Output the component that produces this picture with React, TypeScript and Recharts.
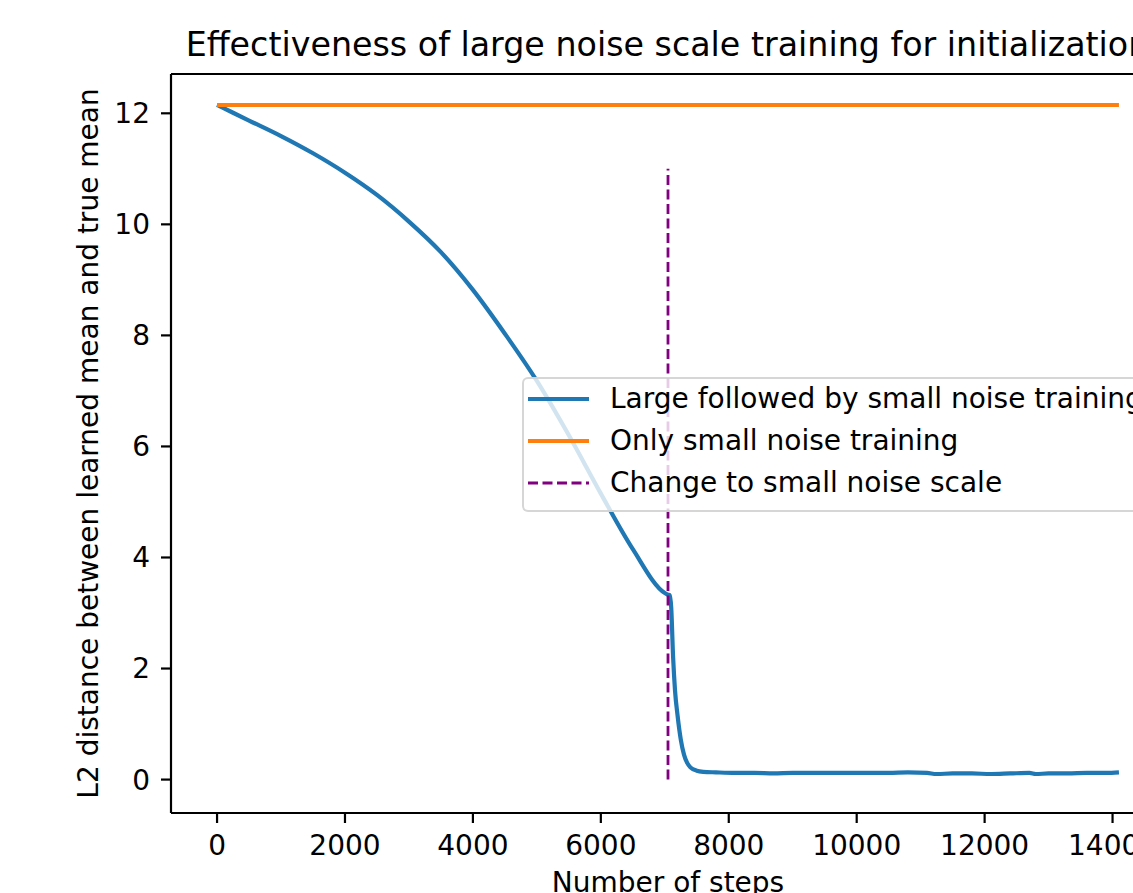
import React from 'react'
import {
  LineChart,
  Line,
  XAxis,
  YAxis,
  ReferenceLine,
  Legend,
} from 'recharts'

// blue: large noise first, then small noise after the switch
const largeSteps = [
  0, 500, 1000, 1500, 2000, 2500, 3000, 3500, 4000, 4500, 5000, 5500, 6000, 6500, 7000,
  7050, 7080, 7100, 7130, 7160, 7200, 7250, 7300, 7350, 7400, 7500, 7600, 7800,
  8100, 8400, 8700, 9000, 9300, 9600, 9900, 10200, 10500, 10800, 11100, 11250, 11500,
  11800, 12100, 12400, 12700, 12800, 13000, 13300, 13600, 13900, 14100,
]
const largeValues = [
  12.15, 11.87, 11.59, 11.28, 10.93, 10.53, 10.05, 9.5, 8.82, 8.03, 7.18, 6.2, 5.15, 4.15, 3.36,
  3.33, 3.32, 3.1, 2.2, 1.6, 1.15, 0.72, 0.45, 0.3, 0.22, 0.16, 0.14, 0.13,
  0.12, 0.12, 0.11, 0.12, 0.12, 0.12, 0.12, 0.12, 0.12, 0.13, 0.12, 0.1, 0.11,
  0.11, 0.1, 0.11, 0.12, 0.1, 0.11, 0.11, 0.12, 0.12, 0.13,
]

// orange: small noise only, stays flat
const smallSteps = [0, 3500, 7050, 10500, 14100]
const smallValues = [12.15, 12.15, 12.15, 12.15, 12.15]

const switchStep = 7050
const switchTop = 11

const xTicks = [0, 2000, 4000, 6000, 8000, 10000, 12000, 14000]
const yTicks = [0, 2, 4, 6, 8, 10, 12]
const xDomain = [-720, 14820]
const yDomain = [-0.602, 12.708]

const legendLabels = [
  'Large followed by small noise training',
  'Only small noise training',
  'Change to small noise scale',
]

const largeData = largeSteps.map((step, i) => ({ step, value: largeValues[i] }))
const smallData = smallSteps.map((step, i) => ({ step, value: smallValues[i] }))

const BLUE = '#1f77b4'
const ORANGE = '#ff7f0e'
const PURPLE = '#800080'
const FONT = 28

const LegendBox = () => {
  const handles = [
    { color: BLUE, width: 4.2, dash: undefined },
    { color: ORANGE, width: 4.2, dash: undefined },
    { color: PURPLE, width: 2.8, dash: '10 4.5' },
  ]
  return (
    <div
      style={{
        position: 'relative',
        width: 700,
        height: 135,
        boxSizing: 'border-box',
        border: '2px solid rgba(204,204,204,0.8)',
        borderRadius: 6,
        background: 'rgba(255,255,255,0.8)',
      }}
    >
      {legendLabels.map((label, i) => (
        <div
          key={label}
          style={{
            position: 'absolute',
            left: 0,
            top: 22.3 + 41.7 * i - 2 - 21,
            height: 42,
            display: 'flex',
            alignItems: 'center',
            whiteSpace: 'nowrap',
          }}
        >
          <svg width={86} height={42} style={{ display: 'block' }}>
            <line
              x1={4}
              x2={65}
              y1={21}
              y2={21}
              stroke={handles[i].color}
              strokeWidth={handles[i].width}
              strokeDasharray={handles[i].dash}
            />
          </svg>
          <span style={{ fontSize: FONT, color: '#000', lineHeight: '42px' }}>{label}</span>
        </div>
      ))}
    </div>
  )
}

export default function App() {
  const axisStroke = { stroke: '#000', strokeWidth: 2.2 }
  return (
    <div
      style={{
        position: 'fixed',
        left: 0,
        top: 0,
        width: 1133,
        height: 893,
        overflow: 'hidden',
        background: '#fff',
        fontFamily: '"DejaVu Sans", sans-serif',
      }}
    >
      <div
        style={{
          position: 'absolute',
          left: 0,
          top: 28,
          width: 1335,
          textAlign: 'center',
          whiteSpace: 'nowrap',
          fontSize: 33.3,
          lineHeight: '34px',
          color: '#000',
        }}
      >
        Effectiveness of large noise scale training for initialization
      </div>
      <LineChart
        width={1200}
        height={1000}
        margin={{ top: 74, right: 35, bottom: 49, left: 5 }}
      >
        <XAxis
          dataKey="step"
          type="number"
          domain={xDomain}
          ticks={xTicks}
          allowDataOverflow
          height={138}
          tickSize={10}
          tickMargin={12}
          axisLine={axisStroke}
          tickLine={axisStroke}
          tick={{ fill: '#000', fontSize: FONT }}
          label={{ value: 'Number of steps', position: 'center', fill: '#000', fontSize: FONT }}
        />
        <YAxis
          type="number"
          domain={yDomain}
          ticks={yTicks}
          allowDataOverflow
          width={166}
          tickSize={10}
          tickMargin={11}
          axisLine={axisStroke}
          tickLine={axisStroke}
          tick={{ fill: '#000', fontSize: FONT }}
          label={{
            value: 'L2 distance between learned mean and true mean',
            angle: -90,
            position: 'center',
            fill: '#000',
            fontSize: FONT,
          }}
        />
        <ReferenceLine y={yDomain[1]} stroke="#000" strokeWidth={2.2} />
        <Line
          data={largeData}
          dataKey="value"
          name={legendLabels[0]}
          type="monotone"
          stroke={BLUE}
          strokeWidth={4.2}
          strokeLinejoin="round"
          dot={false}
          isAnimationActive={false}
        />
        <Line
          data={smallData}
          dataKey="value"
          name={legendLabels[1]}
          type="linear"
          stroke={ORANGE}
          strokeWidth={4.2}
          dot={false}
          isAnimationActive={false}
        />
        <ReferenceLine
          segment={[
            { x: switchStep, y: 0 },
            { x: switchStep, y: switchTop },
          ]}
          stroke={PURPLE}
          strokeWidth={2.8}
          strokeDasharray="10 4.5"
        />
        <Legend
          layout="horizontal"
          verticalAlign="middle"
          align="center"
          content={() => <LegendBox />}
          wrapperStyle={{ left: 522, top: 377, width: 700, height: 135 }}
        />
      </LineChart>
    </div>
  )
}
